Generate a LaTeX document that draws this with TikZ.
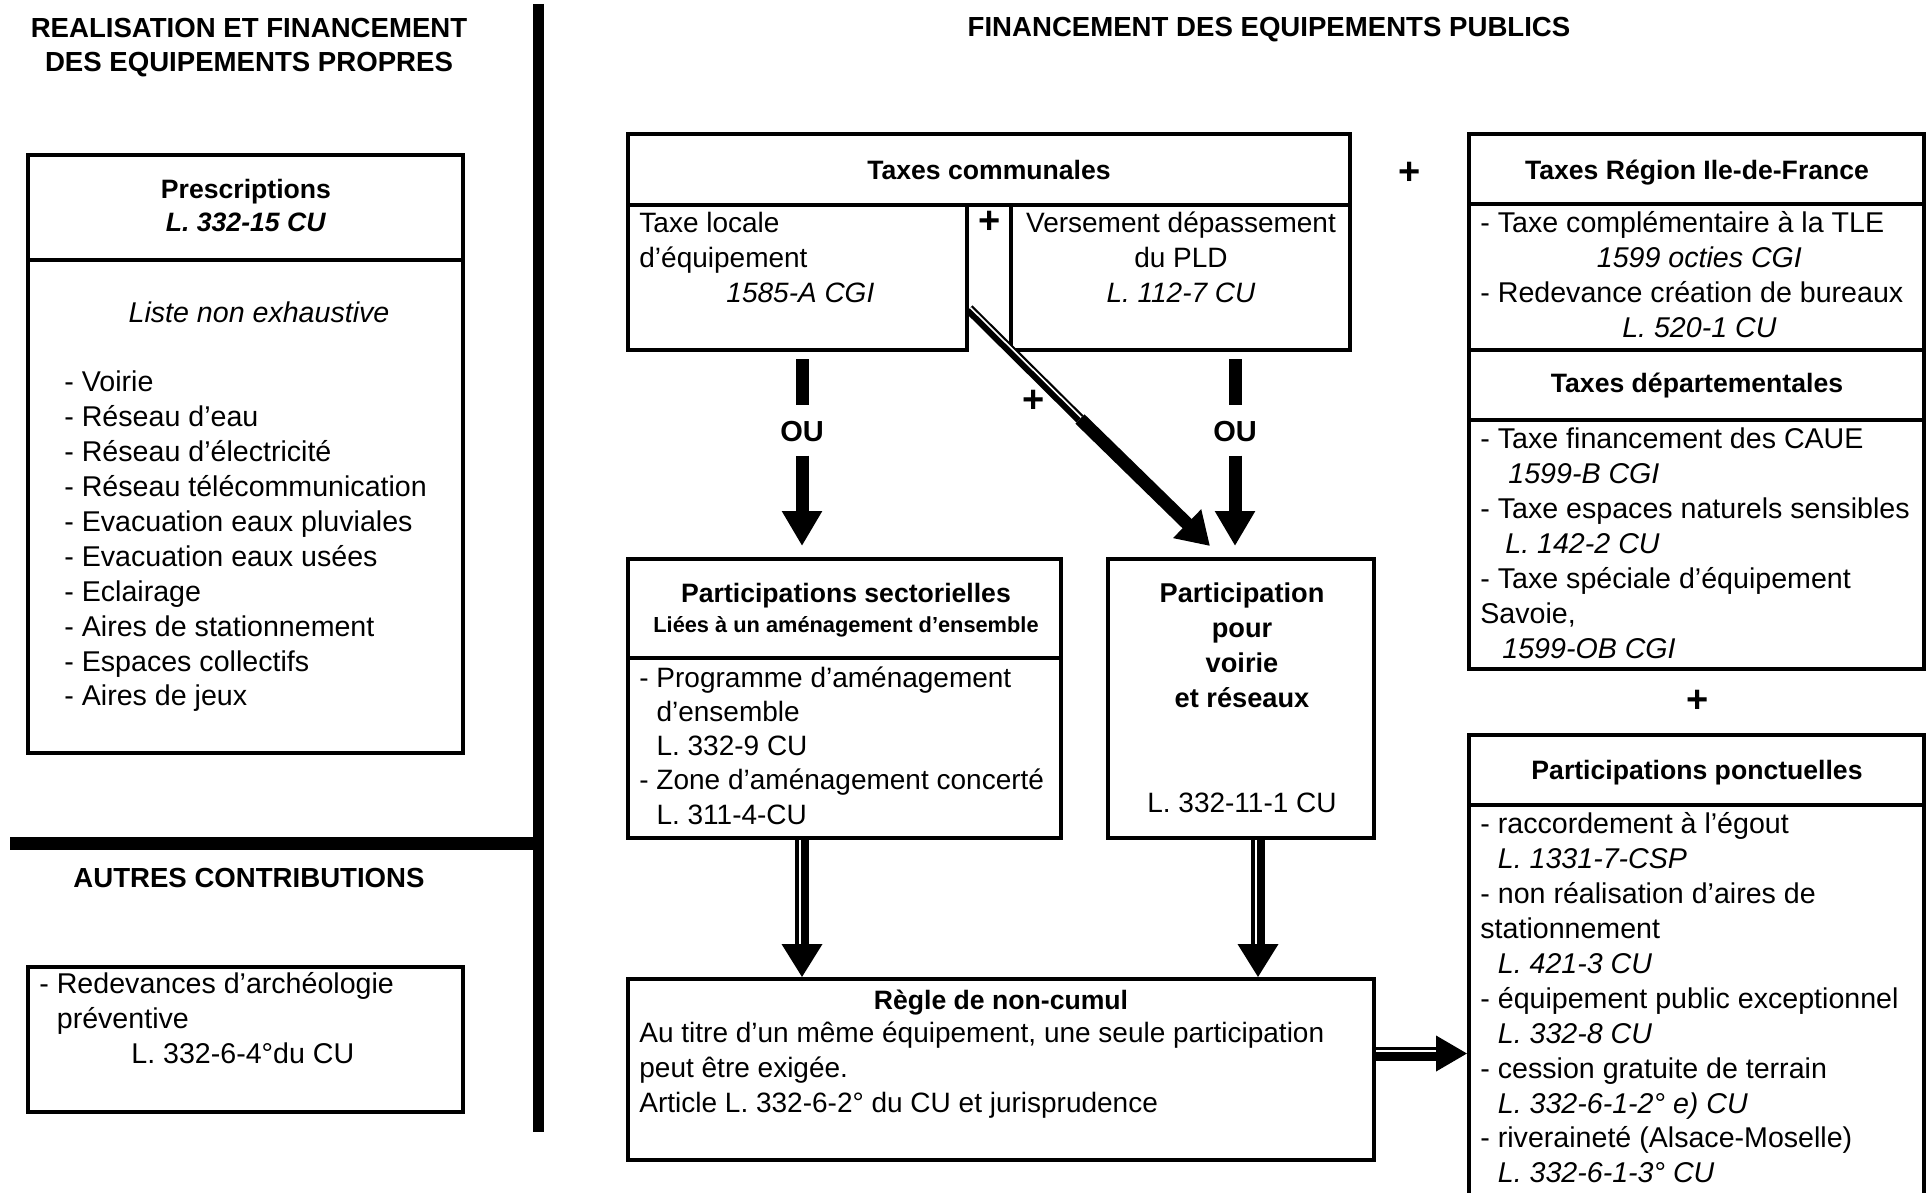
\documentclass[tikz,border=0pt]{standalone}
\usepackage{fontspec}
\setmainfont{Liberation Sans}
\usetikzlibrary{arrows.meta,fit}
\newcommand\fbody{\fontsize{14.3}{17.45}\selectfont}
\newcommand\fcond{\fontsize{14}{17.45}\selectfont}
\newcommand\fhead{\fontsize{13.3}{17}\selectfont\bfseries}
\newcommand\ftitle{\fontsize{13.8}{17}\selectfont\bfseries}
\begin{document}
\begin{tikzpicture}[x=0.5pt,y=-0.5pt,
  framebox/.style={draw, line width=2pt, inner sep=0pt},
  tl/.style={inner sep=0pt, anchor=north west, align=left, font=\fbody},
  tc/.style={inner sep=0pt, anchor=north, align=center},
  headtext/.style={inner sep=0pt, anchor=base, font=\fhead},
  plussign/.style={inner sep=0pt, font=\fontsize{19}{19}\selectfont\bfseries},
  oulabel/.style={inner sep=0pt, font=\fontsize{14.5}{15}\selectfont\bfseries},
  thickbar/.style={line width=6.5pt},
  bigtip/.style={-{Triangle[width=19pt,length=17.5pt]}},
  shaftblack/.style={line width=7pt},
  shaftwhite/.style={white, line width=1.1pt},
]
\useasboundingbox (0,0) rectangle (1926,1193);

% separators
\draw[line width=5.5pt] (538,4) -- (538,1132);
\draw[line width=6.5pt] (10,843) -- (538,843);

% titles
\node[tc, font=\ftitle] (t1) at (249,13) {\strut REALISATION ET FINANCEMENT\\DES EQUIPEMENTS PROPRES};
\node[headtext, font=\ftitle] (t2) at (1269,37) {FINANCEMENT DES EQUIPEMENTS PUBLICS};
\node[headtext, font=\ftitle] (t3) at (249,887) {AUTRES CONTRIBUTIONS};

% boxes
\node[framebox, fit={(28,155) (463,260)}] (ph) {};
\node[framebox, fit={(28,260) (463,753)}] (pb) {};
\node[framebox, fit={(28,967) (463,1112)}] (rd) {};
\node[framebox, fit={(628,134) (1350,205)}] (tch) {};
\node[framebox, fit={(628,205) (967,350)}] (tle) {};
\node[framebox, fit={(1011,205) (1350,350)}] (tvd) {};
\node[framebox, fit={(1469,134) (1924,204)}] (trh) {};
\node[framebox, fit={(1469,204) (1924,350)}] (trb) {};
\node[framebox, fit={(1469,350) (1924,420)}] (tdh) {};
\node[framebox, fit={(1469,420) (1924,669)}] (tdb) {};
\node[framebox, fit={(628,559) (1061,658)}] (psh) {};
\node[framebox, fit={(628,658) (1061,838)}] (psb) {};
\node[framebox, fit={(1108,559) (1374,838)}] (pv) {};
\node[framebox, fit={(628,979) (1374,1160)}] (rg) {};
\node[framebox, fit={(1469,735) (1924,805)}] (pph) {};
\node[framebox, fit={(1469,805) (1924,1210)}] (ppb) {};

% left column texts
\node[tc, font=\fontsize{13.3}{16.5}\selectfont\bfseries] (phx) at (246,175) {\strut Prescriptions\\\textit{L. 332-15 CU}};
\node[headtext, font=\fbody\itshape] (lne) at (259,322) {Liste non exhaustive};
\node[tl] (lst) at (64,367) {\strut- Voirie\\- Réseau d’eau\\- Réseau d’électricité\\- Réseau télécommunication\\- Evacuation eaux pluviales\\- Evacuation eaux usées\\- Eclairage\\- Aires de stationnement\\- Espaces collectifs\\- Aires de jeux};
\node[tl] (rdt) at (39,969) {\strut- Redevances d’archéologie\\\phantom{- }préventive\\\hspace*{46pt}L. 332-6-4°du CU};

% taxes communales
\node[headtext] (tcx) at (989,179) {Taxes communales};
\node[tl, font=\fcond] (tlx) at (639,208) {\strut Taxe locale\\d’équipement\\\makebox[161pt][c]{\itshape 1585-A CGI}};
\node[tc, font=\fcond] (tvx) at (1181,208) {\strut Versement dépassement\\du PLD\\\textit{L. 112-7 CU}};
\node[plussign] (p1) at (990,222) {+};
\node[plussign] (p2) at (1410,173) {+};
\node[plussign] (p3) at (1698,701) {+};
\node[plussign] (p4) at (1034,401) {+};

% region / departement
\node[headtext] (trx0) at (1697,179) {Taxes Région Ile-de-France};
\node[tl] (trx) at (1480,208) {\strut- Taxe complémentaire à la TLE\\\makebox[219pt][c]{\itshape 1599 octies CGI}\\- Redevance création de bureaux\\\makebox[219pt][c]{\itshape L. 520-1 CU}};
\node[headtext] (tdx0) at (1697,392) {Taxes départementales};
\node[tl] (tdx) at (1480,424) {\strut- Taxe financement des CAUE\\\hspace*{14pt}\textit{1599-B CGI}\\- Taxe espaces naturels sensibles\\\hspace*{12.5pt}\textit{L. 142-2 CU}\\- Taxe spéciale d’équipement\\Savoie,\\\hspace*{11pt}\textit{1599-OB CGI}};

% ponctuelles
\node[headtext] (ppx0) at (1697,779) {Participations ponctuelles};
\node[tl] (ppx) at (1480,809) {\strut- raccordement à l’égout\\\phantom{- }\textit{L. 1331-7-CSP}\\- non réalisation d’aires de\\stationnement\\\phantom{- }\textit{L. 421-3 CU}\\- équipement public exceptionnel\\\phantom{- }\textit{L. 332-8 CU}\\- cession gratuite de terrain\\\phantom{- }\textit{L. 332-6-1-2° e) CU}\\- riveraineté (Alsace-Moselle)\\\phantom{- }\textit{L. 332-6-1-3° CU}};

% sectorielles
\node[headtext] (psx1) at (846,602) {Participations sectorielles};
\node[headtext, font=\fontsize{10.9}{12}\selectfont\bfseries] (psx2) at (846,632) {Liées à un aménagement d’ensemble};
\node[tl, font=\fontsize{14}{17.1}\selectfont] (psx) at (639,663) {\strut- Programme d’aménagement\\\phantom{- }d’ensemble\\\phantom{- }L. 332-9 CU\\- Zone d’aménagement concerté\\\phantom{- }L. 311-4-CU};

% voirie
\node[tc, font=\fontsize{13.6}{17.5}\selectfont\bfseries] (pvx) at (1242,578) {\strut Participation\\pour\\voirie\\et réseaux};
\node[headtext, font=\fcond] (pvl) at (1242,812) {L. 332-11-1 CU};

% regle
\node[headtext] (rgh) at (1001,1009) {Règle de non-cumul};
\node[tl, font=\fcond] (rgx) at (639,1018) {\strut Au titre d’un même équipement, une seule participation\\peut être exigée.\\Article L. 332-6-2° du CU et jurisprudence};

% OU arrows
\node[oulabel] (ou1) at (802,432) {OU};
\node[oulabel] (ou2) at (1235,432) {OU};
\draw[thickbar, shorten <=3.5pt, shorten >=8pt] (tle.south -| ou1) -- (ou1.north);
\draw[thickbar, bigtip, shorten <=6.5pt, shorten >=5.5pt] (ou1.south) -- (psh.north -| ou1);
\draw[thickbar, shorten <=3.5pt, shorten >=8pt] (tvd.south -| ou2) -- (ou2.north);
\draw[thickbar, bigtip, shorten <=6.5pt, shorten >=5.5pt] (ou2.south) -- (pv.north -| ou2);

% diagonal arrow
\coordinate (dstart) at (969,309);
\coordinate (dmid) at (1080,419);
\coordinate (dtip) at ([xshift=-15.5pt,yshift=5.5pt]pv.north);
\draw[line width=5pt] (dstart) -- (dmid);
\draw[white, line width=0.8pt] ([xshift=0.7pt,yshift=0.7pt]dstart) -- ([xshift=0.7pt,yshift=0.7pt]dmid);
\draw[line width=6.5pt, -{Triangle[width=19pt,length=16pt]}] (dmid) -- (dtip);

% arrows to regle
\coordinate (a1) at (psb.south -| ou1);
\coordinate (h1) at ([yshift=16.5pt]rg.north -| ou1);
\draw[shaftblack] (a1) -- (h1);
\draw[shaftwhite] ([xshift=-1pt]a1) -- ([xshift=-1pt]h1);
\draw[line width=2pt, -{Triangle[width=20pt,length=16.5pt]}] (h1) -- (rg.north -| ou1);
\coordinate (a2) at ([xshift=8.5pt]pv.south);
\coordinate (h2) at ([yshift=16.5pt]rg.north -| a2);
\draw[shaftblack] (a2) -- (h2);
\draw[shaftwhite] ([xshift=-1pt]a2) -- ([xshift=-1pt]h2);
\draw[line width=2pt, -{Triangle[width=20pt,length=16.5pt]}] (h2) -- (rg.north -| a2);

% arrow to ponctuelles
\coordinate (a3) at ([yshift=8pt]rg.east);
\coordinate (h3) at ([xshift=-15.5pt]ppb.west |- a3);
\draw[shaftblack] (a3) -- (h3);
\draw[shaftwhite] ([yshift=1.2pt]a3) -- ([yshift=1.2pt]h3);
\draw[line width=2pt, -{Triangle[width=17.5pt,length=15.5pt]}] (h3) -- (ppb.west |- a3);
\end{tikzpicture}
\end{document}
